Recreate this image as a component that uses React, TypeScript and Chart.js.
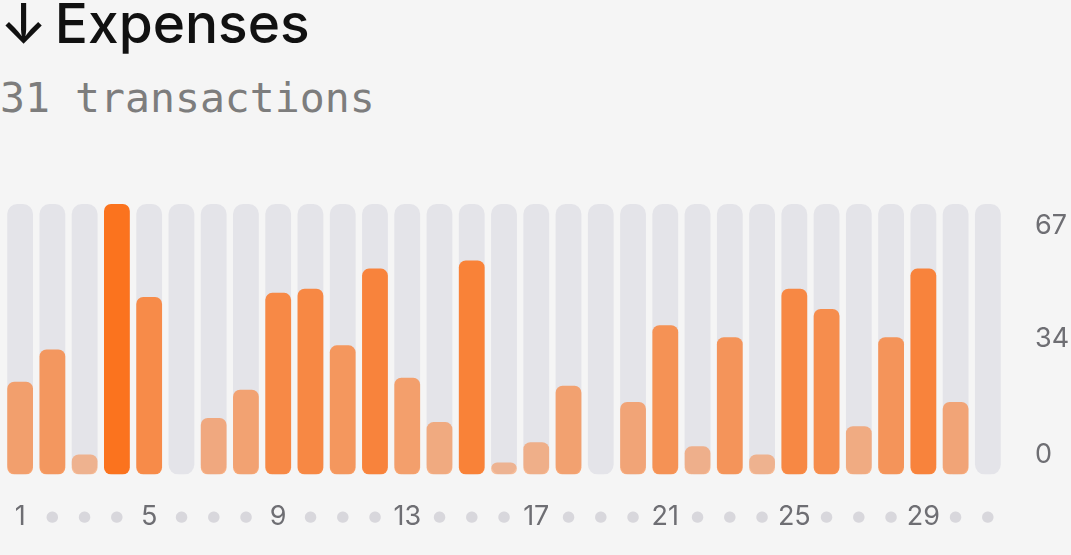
import React, { useEffect, useRef } from "react";
import { Chart, registerables } from "chart.js";

Chart.register(...registerables);

const days = [
  "1", "2", "3", "4", "5", "6", "7", "8", "9", "10", "11", "12", "13", "14", "15", "16",
  "17", "18", "19", "20", "21", "22", "23", "24", "25", "26", "27", "28", "29", "30", "31",
];
const expenses = [
  23, 31, 5, 67, 44, 0, 14, 21, 45, 46, 32, 51, 24, 13, 53, 3,
  8, 22, 0, 18, 37, 7, 34, 5, 46, 41, 12, 34, 51, 18, 0,
];
const yMax = 67;
const yTickValues = [0, 34, 67];

function ExpensesChart(): JSX.Element {
  const chartRef = useRef<HTMLCanvasElement>(null);
  const chartInstance = useRef<Chart<"bar"> | null>(null);

  useEffect(() => {
    const ctx = chartRef.current?.getContext("2d");
    if (!ctx) return;

    if (chartInstance.current) {
      chartInstance.current.destroy();
    }

    chartInstance.current = new Chart(ctx, {
      type: "bar",
      data: {
        labels: days,
        datasets: [
          {
            label: "Expenses",
            data: expenses,
            backgroundColor: (c: any) => {
              const v = expenses[c.dataIndex] ?? 0;
              const a = 0.4 + 0.6 * (v / yMax);
              return `rgba(251, 115, 30, ${a})`;
            },
            borderRadius: 7,
            borderSkipped: false,
            barPercentage: 0.8,
            categoryPercentage: 1,
            grouped: false,
            yAxisID: "y",
          },
          {
            label: "Track",
            data: days.map(() => yMax),
            backgroundColor: "#e4e4e9",
            borderRadius: 10,
            borderSkipped: false,
            barPercentage: 0.8,
            categoryPercentage: 1,
            grouped: false,
            yAxisID: "y",
          },
        ],
      },
      options: {
        animation: false,
        responsive: true,
        maintainAspectRatio: false,
        layout: { padding: { top: 14, left: 4, bottom: 0, right: 0 } },
        plugins: {
          legend: { display: false },
          tooltip: { enabled: false },
        },
        scales: {
          x: {
            grid: { display: false, drawTicks: false },
            border: { display: false },
            afterFit: (scale: any) => {
              scale.paddingLeft = 0;
              scale.paddingRight = 0;
            },
            ticks: {
              autoSkip: false,
              maxRotation: 0,
              padding: 26,
              font: (c: any) =>
                c.index % 4 === 0
                  ? { family: "Inter", size: 27 }
                  : { family: "DejaVu Sans", size: 15, lineHeight: 2.16 },
              color: (c: any) => (c.index % 4 === 0 ? "#6e6e73" : "#d8d7dc"),
              callback: (_v: any, i: number) => (i % 4 === 0 ? days[i] : "\u25CF"),
            },
          },
          y: {
            display: false,
            min: 0,
            max: yMax,
          },
          yLabels: {
            position: "right",
            min: -5.9,
            max: 73.5,
            grid: { display: false, drawTicks: false },
            border: { display: false },
            afterBuildTicks: (scale: any) => {
              scale.ticks = yTickValues.map((v) => ({ value: v }));
            },
            afterFit: (scale: any) => {
              scale.width = 67;
              scale.paddingTop = 0;
              scale.paddingBottom = 0;
            },
            ticks: {
              padding: 31,
              font: { family: "Inter", size: 27 },
              color: "#6e6e73",
            },
          },
        },
      },
    });

    return () => {
      if (chartInstance.current) {
        chartInstance.current.destroy();
        chartInstance.current = null;
      }
    };
  }, []);

  return (
    <div style={{ position: "absolute", left: 0, top: 190, width: 1071, height: 369 }}>
      <canvas ref={chartRef}></canvas>
    </div>
  );
}

export default function App(): JSX.Element {
  return (
    <div
      style={{
        position: "fixed",
        left: 0,
        top: 0,
        width: 1071,
        height: 555,
        background: "#f5f5f5",
        overflow: "hidden",
      }}
    >
      <div
        style={{
          position: "absolute",
          left: 0,
          top: -4,
          fontFamily: "Inter",
          fontWeight: 500,
          fontSize: 55,
          lineHeight: 1,
          color: "#111",
          whiteSpace: "nowrap",
          wordSpacing: -7,
        }}
      >
        ↓ Expenses
      </div>
      <div
        style={{
          position: "absolute",
          left: 0,
          top: 77,
          fontFamily: "'DejaVu Sans Mono', monospace",
          fontSize: 41.5,
          lineHeight: 1,
          color: "#7d7d7d",
          whiteSpace: "nowrap",
        }}
      >
        31 transactions
      </div>
      <ExpensesChart />
    </div>
  );
}
